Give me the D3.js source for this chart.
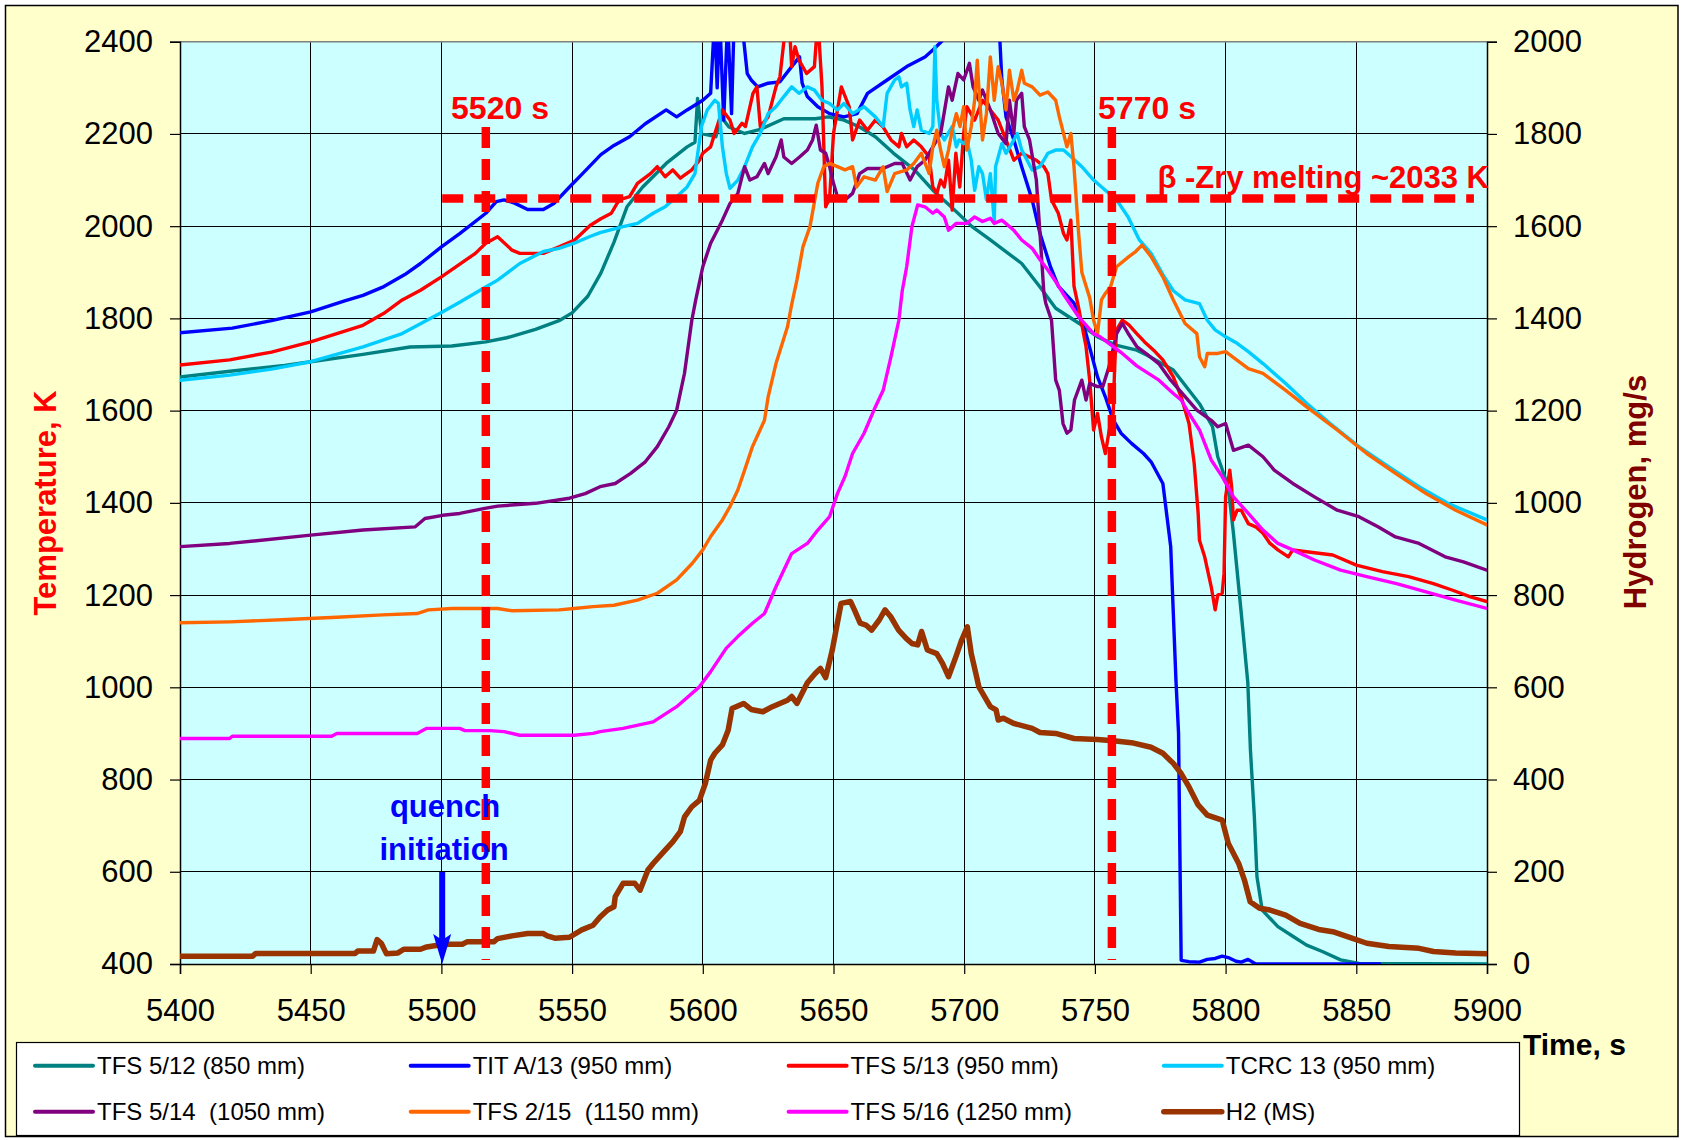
<!DOCTYPE html>
<html>
<head>
<meta charset="utf-8">
<script src="https://cdn.jsdelivr.net/npm/d3@7"></script>
<style>
  html, body { margin: 0; padding: 0; background: #ffffff; }
  svg { display: block; font-family: Arial, "Liberation Sans", sans-serif; }
  .legend text { white-space: pre; }
</style>
</head>
<body>
<svg id="chart" width="1681" height="1140"></svg>
<script>
// ---- tick values ----
const timeTicks = [5400, 5450, 5500, 5550, 5600, 5650, 5700, 5750, 5800, 5850, 5900];
const tempTicks = [400, 600, 800, 1000, 1200, 1400, 1600, 1800, 2000, 2200, 2400];
const h2Ticks = [0, 200, 400, 600, 800, 1000, 1200, 1400, 1600, 1800, 2000];

// ---- series: [time s, temperature K] ----
const tfs512 = [[5400,1673],[5420,1686],[5440,1698],[5450,1706],[5470,1722],[5488,1738],[5504,1740],[5517,1749],[5525,1758],[5536,1776],[5545,1795],[5550,1812],[5556,1848],[5561,1898],[5566,1965],[5571,2042],[5577,2085],[5586,2136],[5594,2172],[5597,2182],[5598,2277],[5599.5,2201],[5605,2194],[5607,2237],[5610,2215],[5616,2201],[5622,2210],[5631,2233],[5643,2233],[5648,2237],[5654,2230],[5660,2215],[5666,2194],[5673,2158],[5681,2122],[5688,2078],[5695,2042],[5703,1999],[5710,1970],[5722,1919],[5729,1868],[5735,1822],[5744,1789],[5751,1760],[5758,1742],[5766,1731],[5770,1720],[5780,1688],[5790,1615],[5795,1565],[5797,1500],[5801,1435],[5803,1334],[5806,1160],[5808.5,1010],[5809.5,864],[5811,719],[5812,589],[5814,517],[5820,481],[5826,459],[5831,441],[5837,427],[5844,409],[5851,401],[5900,400]];

const titA13 = [[5400,1769],[5420,1779],[5435,1795],[5450,1814],[5463,1838],[5470,1850],[5478,1869],[5486,1895],[5492,1919],[5500,1955],[5507,1984],[5517,2028],[5521,2053],[5524,2057],[5528,2050],[5533,2036],[5539,2036],[5543,2049],[5549,2085],[5554,2114],[5561,2155],[5566,2175],[5572,2194],[5578,2222],[5586,2252],[5590,2237],[5594,2252],[5600,2273],[5603,2288],[5604.5,2450],[5605.5,2300],[5606.5,2450],[5608,2230],[5609.5,2450],[5611,2244],[5612,2450],[5614.8,2450],[5617,2331],[5618.5,2317],[5621,2302],[5625,2310],[5629.5,2313],[5634,2346],[5637,2367],[5638,2310],[5640,2281],[5644,2259],[5648.5,2244],[5654,2237],[5659,2244],[5663,2288],[5670.5,2317],[5678,2346],[5685,2367],[5688,2382],[5692,2404],[5698,2450],[5710,2450],[5713.5,2420],[5714.4,2317],[5716,2237],[5719,2187],[5722,2129],[5726,2057],[5729,1984],[5733,1912],[5736,1870],[5742,1833],[5746.6,1767],[5751,1673],[5754,1630],[5757,1580],[5760,1551],[5764,1529],[5768.6,1507],[5771.5,1489],[5776,1442],[5779,1305],[5780,1160],[5781,1016],[5782,900],[5782.5,647],[5783,408],[5786,405],[5790,404],[5793,410],[5796,412],[5798.7,417],[5801,414],[5804,406],[5806,404],[5808.6,410],[5811.5,400],[5859,400]];

const tfs513 = [[5400,1699],[5419,1710],[5435,1727],[5450,1749],[5470,1785],[5478,1811],[5485,1840],[5492,1861],[5500,1890],[5513,1941],[5517,1963],[5521.5,1977],[5527,1948],[5530,1941],[5539,1941],[5545,1955],[5551,1970],[5557,2002],[5561,2016],[5565,2028],[5568,2057],[5572,2064],[5575,2093],[5580,2114],[5582.6,2129],[5585.6,2107],[5588.5,2122],[5591.4,2104],[5595.8,2122],[5598.7,2143],[5600,2158],[5603,2172],[5604.6,2201],[5607.5,2252],[5610.4,2230],[5612,2201],[5615,2223],[5616.3,2216],[5619.2,2288],[5620.7,2302],[5622,2216],[5625,2237],[5628,2302],[5629.5,2324],[5632,2450],[5633,2450],[5634,2346],[5635.3,2389],[5636.8,2360],[5639.7,2331],[5642.7,2346],[5644,2450],[5645.6,2302],[5647,2042],[5648.5,2060],[5650,2201],[5653,2302],[5656,2259],[5657.3,2187],[5660,2230],[5663,2208],[5666,2230],[5669,2215],[5672,2187],[5675,2172],[5676,2201],[5678,2172],[5680.7,2187],[5683.6,2172],[5686.6,2150],[5688,2085],[5689.5,2071],[5691,2100],[5692.4,2085],[5694,2143],[5695.4,2035],[5696.8,2158],[5698.3,2085],[5699.8,2201],[5701,2259],[5704,2230],[5707,2273],[5710,2252],[5713,2230],[5716,2187],[5719,2143],[5722,2158],[5725,2150],[5727.6,2143],[5730.5,2129],[5732,2114],[5733.4,2057],[5736,2028],[5738,1984],[5739.3,1970],[5740.8,2013],[5742,1870],[5743.7,1825],[5746.6,1739],[5748,1666],[5749.5,1558],[5751,1594],[5752.5,1543],[5754,1507],[5755.5,1558],[5757,1594],[5757.6,1702],[5758.3,1775],[5760.5,1796],[5763,1786],[5766,1767],[5769,1749],[5773,1728],[5776,1710],[5780,1673],[5783,1630],[5786,1572],[5788,1485],[5789.5,1377],[5790,1319],[5792,1283],[5794.5,1218],[5796,1168],[5797,1200],[5798.7,1204],[5799.4,1247],[5800,1413],[5801.6,1471],[5802.3,1435],[5803,1363],[5804.4,1384],[5806,1384],[5808.7,1355],[5811.5,1348],[5814.3,1334],[5817,1312],[5820,1298],[5824,1283],[5825.7,1298],[5831,1294],[5841,1287],[5850,1265],[5860,1251],[5870,1240],[5879.5,1225],[5886.6,1211],[5893.7,1196],[5900,1186]];

const tcrc13 = [[5400,1666],[5419,1677],[5435,1690],[5450,1706],[5470,1738],[5485,1767],[5499.5,1811],[5507,1835],[5516.6,1867],[5521.5,1883],[5530,1919],[5539,1945],[5545,1952],[5550.8,1963],[5556.6,1977],[5560.7,1986],[5569.5,1999],[5575,2006],[5581,2028],[5585.6,2042],[5590,2064],[5594,2085],[5597,2114],[5599.5,2216],[5601.7,2252],[5604.6,2273],[5606,2266],[5607.5,2172],[5609,2114],[5610.4,2082],[5613.4,2100],[5616,2129],[5619,2172],[5622,2201],[5625,2244],[5628,2259],[5631,2281],[5634,2302],[5636.8,2288],[5640,2302],[5642.7,2295],[5645.6,2273],[5648.5,2266],[5651.5,2252],[5654,2266],[5657.3,2244],[5661.7,2259],[5666,2237],[5669,2216],[5670.5,2288],[5673.4,2317],[5675,2324],[5676,2302],[5678,2310],[5679.3,2252],[5680.7,2216],[5682,2252],[5683.6,2208],[5686.6,2201],[5688,2216],[5688.8,2389],[5689.5,2273],[5691,2201],[5692.4,2187],[5695.4,2216],[5697,2172],[5698,2187],[5699.8,2179],[5701,2187],[5702.7,2143],[5704,2078],[5705.6,2129],[5707,2114],[5708.5,2057],[5710,2114],[5711.5,2010],[5712,2129],[5714.4,2179],[5716,2158],[5719,2187],[5720.3,2201],[5722,2165],[5726,2122],[5729,2129],[5732,2158],[5735,2165],[5738,2165],[5741,2150],[5745,2129],[5749.5,2100],[5754,2078],[5758.3,2057],[5762.7,2020],[5767,1970],[5771.5,1941],[5776,1895],[5780,1860],[5784.5,1840],[5790,1832],[5793,1796],[5796,1775],[5800,1760],[5804.4,1746],[5808.7,1728],[5814.3,1702],[5823,1659],[5831,1616],[5840,1572],[5851,1522],[5862.5,1478],[5874,1435],[5885,1399],[5900,1363]];

const tfs514 = [[5400,1305],[5419,1312],[5450,1330],[5470,1341],[5490,1348],[5493.7,1366],[5500.5,1373],[5507,1377],[5516.6,1388],[5521.5,1393],[5536,1399],[5549,1410],[5555,1420],[5560.7,1435],[5566.5,1442],[5572.4,1464],[5578,1489],[5582.6,1522],[5587,1565],[5590,1601],[5593,1681],[5595.8,1796],[5597.3,1840],[5600,1912],[5603,1963],[5607.5,2013],[5610.4,2049],[5613.4,2071],[5616,2129],[5618,2100],[5620.7,2107],[5623.6,2136],[5625,2114],[5628,2150],[5630,2187],[5631,2150],[5634,2136],[5637,2150],[5640,2165],[5642,2187],[5643.4,2219],[5645,2165],[5647,2158],[5648.5,2129],[5650,2093],[5651.5,2064],[5654.4,2057],[5657.3,2071],[5660,2114],[5663,2125],[5669,2125],[5673.4,2136],[5676.3,2136],[5679.3,2100],[5682,2129],[5685,2143],[5688,2172],[5691,2201],[5694,2302],[5695.4,2273],[5697.6,2331],[5699.8,2317],[5702,2353],[5703.4,2302],[5705.6,2273],[5707,2295],[5710,2252],[5713,2201],[5716,2179],[5717.3,2273],[5719,2201],[5720,2273],[5722,2288],[5723,2216],[5725,2187],[5727.6,2100],[5729,1984],[5730.5,1854],[5731.2,1833],[5733.4,1796],[5735,1666],[5736.4,1644],[5737.8,1572],[5739.3,1551],[5740.8,1558],[5742.2,1623],[5745,1666],[5746.6,1623],[5748,1659],[5751,1652],[5753,1652],[5755.4,1695],[5758.3,1767],[5760.5,1789],[5763,1765],[5766,1739],[5770,1722],[5774.4,1702],[5779,1666],[5783,1640],[5789,1601],[5794.5,1579],[5797,1565],[5800,1572],[5803,1514],[5808.7,1525],[5814.3,1500],[5818.6,1471],[5825.7,1442],[5834,1413],[5842.7,1384],[5851,1370],[5858.3,1348],[5865,1326],[5874,1312],[5884,1283],[5891,1272],[5900,1254]];

const tfs215 = [[5400,1140],[5419,1142],[5441,1147],[5460,1152],[5477.6,1157],[5490.7,1160],[5495,1168],[5504,1171],[5521.5,1171],[5527,1166],[5545,1168],[5550.8,1171],[5558,1175],[5566,1178],[5575,1189],[5582.6,1204],[5590,1233],[5596,1269],[5600,1298],[5603,1327],[5607.5,1363],[5610.4,1392],[5613.4,1428],[5616,1471],[5619,1522],[5623.6,1579],[5625,1630],[5628,1702],[5632.4,1782],[5634,1830],[5636,1883],[5638.3,1955],[5641,1999],[5644,2093],[5646.3,2129],[5648.5,2136],[5651.5,2129],[5654.4,2122],[5657.3,2129],[5658.8,2085],[5661.7,2107],[5666,2100],[5669,2129],[5670.5,2075],[5673.4,2114],[5678,2122],[5680.7,2136],[5683.6,2158],[5686.6,2114],[5688,2172],[5689.5,2208],[5691,2165],[5692.4,2129],[5694,2165],[5695.4,2208],[5697,2244],[5698.4,2216],[5699.8,2259],[5701,2165],[5702.7,2216],[5704,2273],[5705,2360],[5705.6,2302],[5707,2187],[5708.5,2244],[5710,2367],[5711.5,2273],[5713,2346],[5714.4,2310],[5716,2252],[5717.3,2338],[5719,2273],[5720.3,2295],[5722,2338],[5723,2310],[5726,2302],[5729,2284],[5732,2291],[5735,2273],[5736.4,2237],[5738,2201],[5739.3,2172],[5740.8,2201],[5742,2129],[5743.7,1990],[5745,1900],[5746.6,1870],[5748,1845],[5749.5,1796],[5751,1767],[5752.5,1840],[5754,1854],[5756,1869],[5758.3,1912],[5763,1934],[5765.6,1945],[5768,1959],[5771.5,1934],[5776,1890],[5780,1840],[5784.5,1789],[5789,1767],[5790,1717],[5792,1695],[5793,1724],[5797,1724],[5800,1728],[5808.7,1691],[5814.3,1681],[5823,1644],[5831,1608],[5842.7,1558],[5854,1507],[5865,1464],[5876.7,1420],[5888,1384],[5900,1352]];

const tfs516 = [[5400,889],[5419,889],[5420,894],[5458,894],[5460,900],[5490.7,900],[5494.4,911],[5507,911],[5509,906],[5518.5,906],[5524,904],[5530,896],[5550.8,896],[5558,900],[5560.7,904],[5569.5,911],[5581,925],[5590,958],[5598.7,1001],[5603,1034],[5609,1085],[5613.4,1110],[5619,1139],[5623.6,1160],[5628,1218],[5634,1290],[5640,1312],[5644,1341],[5648.5,1370],[5651.5,1420],[5654.4,1457],[5657.3,1507],[5661.7,1551],[5666,1608],[5669,1644],[5672,1717],[5675,1796],[5676.3,1860],[5678,1912],[5680,1999],[5682.2,2046],[5685,2042],[5688,2028],[5689.5,2035],[5692.4,2020],[5694,1991],[5697,2006],[5701,2006],[5704,2020],[5707,2010],[5710,2017],[5711.5,2006],[5714.4,2013],[5719,1991],[5722,1970],[5726,1952],[5729,1927],[5732,1905],[5735,1880],[5737.8,1854],[5743.7,1804],[5749.5,1767],[5752,1760],[5757,1739],[5760.5,1724],[5766,1697],[5774.5,1666],[5780,1637],[5783,1623],[5786,1594],[5790,1558],[5794.5,1493],[5798.7,1457],[5803,1413],[5808.7,1377],[5814.3,1341],[5820,1312],[5825.7,1298],[5834,1276],[5844,1254],[5854,1240],[5865.4,1225],[5876.7,1207],[5888,1189],[5900,1171]];

// ---- hydrogen release: [time s, mg/s] (right axis) ----
const h2ms = [[5400,17],[5427.8,17],[5429,23],[5467,23],[5468,28],[5474,28],[5475.4,53],[5477,45],[5479,22],[5483.4,24],[5485.6,32],[5492,32],[5494.4,37],[5498,40],[5502.4,43],[5508,43],[5509.8,48],[5520,48],[5521.5,55],[5527,61],[5533,66],[5539,66],[5540.5,61],[5543.4,56],[5549,58],[5553.7,74],[5558,84],[5560.7,102],[5563.6,117],[5566,124],[5566.5,146],[5569.5,175],[5574,175],[5576,160],[5579,204],[5581,218],[5585.6,247],[5588.5,265],[5591.4,287],[5593,319],[5595.8,341],[5598.7,355],[5601,392],[5603,442],[5604.6,457],[5607.5,475],[5609.7,507],[5611.2,554],[5615.6,565],[5618.5,552],[5623,547],[5626.6,558],[5632.4,572],[5634,580],[5636,565],[5640,610],[5643,630],[5645,641],[5647,621],[5649.5,680],[5652.9,782],[5656.5,786],[5658,768],[5660.2,739],[5662.4,735],[5664.6,724],[5667.5,746],[5669.7,768],[5671.9,753],[5674.9,724],[5677.8,706],[5680,695],[5682.2,692],[5683.7,721],[5685.9,681],[5689.5,673],[5691.7,652],[5694,623],[5696.8,666],[5699,702],[5701.2,731],[5702.7,673],[5704.9,619],[5705.6,601],[5710,558],[5712.2,551],[5713,529],[5715,533],[5718.8,522],[5726,511],[5729,502],[5735,500],[5742,489],[5751,487],[5757,484],[5764,480],[5771.5,470],[5776,457],[5780,435],[5783,413],[5786,384],[5789.5,345],[5793,323],[5798.7,312],[5801,262],[5805,218],[5807.2,182],[5809.4,135],[5813,121],[5817,117],[5823,106],[5828.5,88],[5835.6,75],[5841,70],[5848.3,56],[5854,45],[5862.5,38],[5874,34],[5879.5,27],[5888,24],[5900,22]];

const seriesLabels = ["TFS 5/12 (850 mm)", "TIT A/13 (950 mm)", "TFS 5/13 (950 mm)", "TCRC 13 (950 mm)",
                      "TFS 5/14  (1050 mm)", "TFS 2/15  (1150 mm)", "TFS 5/16 (1250 mm)", "H2 (MS)"];

// ---- reference markers ----
const markerTimes = [5517, 5756.5];
const markerLabels = ["5520 s", "5770 s"];
const meltLevel = 2060;
const meltLabel = "\u03B2 -Zry melting ~2033 K";

// ---------------- drawing ----------------
const svg = d3.select("#chart");
const W = 1681, H = 1140;
const plot = { left: 180, right: 1487, top: 41.7, bottom: 964 };

const x = d3.scaleLinear().domain([5400, 5900]).range([plot.left, plot.right]);
const yT = d3.scaleLinear().domain([400, 2400]).range([plot.bottom, plot.top]);
const yH = d3.scaleLinear().domain([0, 2000]).range([plot.bottom, plot.top]);

const styles = [
  { color: "#008080", width: 3.4, axis: "T" },
  { color: "#0000FF", width: 3.4, axis: "T" },
  { color: "#FF0000", width: 3.4, axis: "T" },
  { color: "#00CCFF", width: 3.4, axis: "T" },
  { color: "#800080", width: 3.4, axis: "T" },
  { color: "#FF6600", width: 3.4, axis: "T" },
  { color: "#FF00FF", width: 3.4, axis: "T" },
  { color: "#993300", width: 5.5, axis: "H" }
];
const seriesData = [tfs512, titA13, tfs513, tcrc13, tfs514, tfs215, tfs516, h2ms];

// outer chart area
svg.append("rect").attr("x", 5.5).attr("y", 5.5).attr("width", 1672.5).attr("height", 1131)
  .attr("fill", "#FFFFCC").attr("stroke", "#000").attr("stroke-width", 1.5);

// plot background
svg.append("rect").attr("x", plot.left).attr("y", plot.top)
  .attr("width", plot.right - plot.left).attr("height", plot.bottom - plot.top)
  .attr("fill", "#CCFFFF");

// grid
const grid = svg.append("g").attr("stroke", "#000").attr("stroke-width", 1).attr("shape-rendering", "crispEdges");
grid.selectAll("line.v").data(timeTicks.slice(1, -1)).join("line")
  .attr("x1", d => x(d)).attr("x2", d => x(d)).attr("y1", plot.top).attr("y2", plot.bottom);
grid.selectAll("line.h").data(tempTicks.slice(1, -1)).join("line")
  .attr("x1", plot.left).attr("x2", plot.right).attr("y1", d => yT(d)).attr("y2", d => yT(d));

// plot frame
svg.append("line").attr("x1", plot.left).attr("x2", plot.right).attr("y1", plot.top).attr("y2", plot.top)
  .attr("stroke", "#808080").attr("stroke-width", 1.5);

// axes
const axisFont = 31;
const gx = svg.append("g").attr("transform", `translate(0,${plot.bottom})`)
  .call(d3.axisBottom(x).tickValues(timeTicks).tickSize(10).tickPadding(25).tickFormat(d3.format("d")));
const gl = svg.append("g").attr("transform", `translate(${plot.left},0)`)
  .call(d3.axisLeft(yT).tickValues(tempTicks).tickSize(10).tickPadding(17).tickFormat(d3.format("d")));
const gr = svg.append("g").attr("transform", `translate(${plot.right},0)`)
  .call(d3.axisRight(yH).tickValues(h2Ticks).tickSize(10).tickPadding(16).tickFormat(d3.format("d")));
[gx, gl, gr].forEach(g => {
  g.select(".domain").attr("stroke", "#000").attr("stroke-width", 1.5);
  g.selectAll(".tick line").attr("stroke", "#000").attr("stroke-width", 1.2);
  g.selectAll(".tick text").attr("fill", "#000").style("font-size", axisFont + "px")
    .style("font-family", "Arial, 'Liberation Sans', sans-serif");
});

// data lines
svg.append("clipPath").attr("id", "plotClip").append("rect")
  .attr("x", plot.left).attr("y", plot.top)
  .attr("width", plot.right - plot.left).attr("height", plot.bottom - plot.top);
const lines = svg.append("g").attr("clip-path", "url(#plotClip)");
seriesData.forEach((data, i) => {
  const st = styles[i];
  const yS = st.axis === "H" ? yH : yT;
  const gen = d3.line().x(d => x(d[0])).y(d => yS(d[1]));
  lines.append("path").datum(data).attr("d", gen)
    .attr("fill", "none").attr("stroke", st.color).attr("stroke-width", st.width)
    .attr("stroke-linejoin", "round").attr("stroke-linecap", "round");
});

// reference markers (dashed)
const dash = "21,11";
const marks = svg.append("g").attr("stroke", "#FF0000").attr("stroke-width", 8.5)
  .attr("stroke-dasharray", dash).attr("fill", "none");
marks.append("line").attr("x1", x(5500.3)).attr("x2", x(5895))
  .attr("y1", yT(meltLevel)).attr("y2", yT(meltLevel));
markerTimes.forEach(t => {
  marks.append("line").attr("x1", x(t)).attr("x2", x(t))
    .attr("y1", 127).attr("y2", 960);
});

const ann = svg.append("g").attr("fill", "#FF0000").style("font-weight", "bold").style("font-size", "32px");
ann.append("text").attr("x", 500).attr("y", 119).attr("text-anchor", "middle").text(markerLabels[0]);
ann.append("text").attr("x", 1147).attr("y", 119).attr("text-anchor", "middle").text(markerLabels[1]);
ann.append("text").attr("x", 1489).attr("y", 188).attr("text-anchor", "end")
  .style("font-size", "31px").text(meltLabel);

// quench initiation arrow
const qx = x(5500.3);
const q = svg.append("g").attr("fill", "#0000FF");
q.append("text").attr("x", 445).attr("y", 817).attr("text-anchor", "middle")
  .style("font-weight", "bold").style("font-size", "31px").text("quench");
q.append("text").attr("x", 444).attr("y", 860).attr("text-anchor", "middle")
  .style("font-weight", "bold").style("font-size", "31px").text("initiation");
q.append("line").attr("x1", qx).attr("x2", qx).attr("y1", 872).attr("y2", 942)
  .attr("stroke", "#0000FF").attr("stroke-width", 6);
q.append("path").attr("d", `M${qx - 9},934 L${qx},964 L${qx + 9},934 L${qx},940 Z`);

// axis titles
svg.append("text").attr("transform", "translate(56,503) rotate(-90)").attr("text-anchor", "middle")
  .attr("fill", "#FF0000").style("font-weight", "bold").style("font-size", "31px").text("Temperature, K");
svg.append("text").attr("transform", "translate(1646,492) rotate(-90)").attr("text-anchor", "middle")
  .attr("fill", "#800000").style("font-weight", "bold").style("font-size", "31px").text("Hydrogen, mg/s");
svg.append("text").attr("x", 1523).attr("y", 1055).attr("fill", "#000")
  .style("font-weight", "bold").style("font-size", "30px").text("Time, s");

// legend
const leg = svg.append("g").attr("class", "legend");
leg.append("rect").attr("x", 16.5).attr("y", 1042.5).attr("width", 1503).attr("height", 93)
  .attr("fill", "#FFFFFF").attr("stroke", "#000").attr("stroke-width", 1.2);
const colX = [35, 410.7, 788.6, 1163.8];
const rowY = [1065.7, 1111.7];
seriesLabels.forEach((lab, i) => {
  const cx = colX[i % 4], cy = rowY[Math.floor(i / 4)];
  leg.append("line").attr("x1", cx).attr("x2", cx + 58).attr("y1", cy).attr("y2", cy)
    .attr("stroke", styles[i].color).attr("stroke-width", i === 7 ? 5.5 : 4).attr("stroke-linecap", "round");
  leg.append("text").attr("x", cx + 62).attr("y", cy + 8.5).attr("fill", "#000")
    .style("font-size", "24px").text(lab);
});
</script>
</body>
</html>
